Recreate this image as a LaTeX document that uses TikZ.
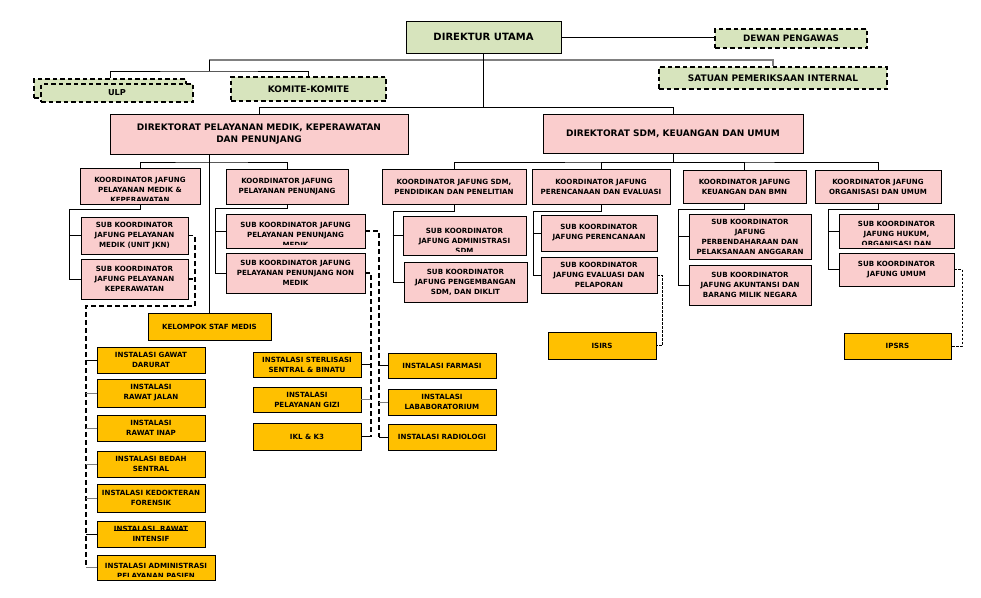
\documentclass[tikz,border=0pt]{standalone}
\usepackage{fontspec}
\setmainfont{DejaVu Sans}
\definecolor{greenfill}{RGB}{215,228,189}
\definecolor{pinkfill}{RGB}{250,205,205}
\definecolor{goldfill}{RGB}{255,192,0}
\newcommand{\strikeword}[1]{\setbox0\hbox{#1}\rlap{\raisebox{1.2pt}{\rule{\wd0}{0.6pt}}}\box0}

\begin{document}
\begin{tikzpicture}[x=1pt,y=-1pt,line width=0.7pt,
  base node/.style={draw,line width=0.9pt,inner sep=0pt,align=center,
    font=\fontsize{7.1}{10}\selectfont\bfseries},
  wh/.style 2 args={minimum width=#1pt,minimum height=#2pt},
  top node/.style={base node,fill=greenfill,font=\fontsize{9}{11}\selectfont\bfseries},
  dash node/.style={top node,dash pattern=on 4.5pt off 3pt,line width=1.2pt},
  dir node/.style={base node,fill=pinkfill,font=\fontsize{9}{12}\selectfont\bfseries},
  koor node/.style={base node,fill=pinkfill},
  unit node/.style={base node,fill=goldfill},
  % text that runs out of its box is cut 4pt above the bottom edge
  cut text/.style 2 args={path picture={
    \clip (path picture bounding box.north west) rectangle
      ([yshift=4pt]path picture bounding box.south east);
    \node[draw=none,fill=none,inner sep=0pt,
    minimum width=0pt,minimum height=0pt,anchor=north,align=center,
    font=\fontsize{7.1}{10}\selectfont\bfseries]
    at ([yshift=-#2pt]path picture bounding box.north) {#1};}},
  gray line/.style={draw=gray,line width=1.8pt},
  stub/.style={draw=gray},
  big dash/.style={dash pattern=on 5pt off 3pt,line width=1.1pt},
  fine dash/.style={dash pattern=on 2.5pt off 1.5pt,line width=0.6pt}]

  \fill[white] (0,0) rectangle (981,597);
  \useasboundingbox (0,0) rectangle (981,597);

  % top level
  \node[top node,wh={155}{32},font=\fontsize{10}{12}\selectfont\bfseries] (dirut) at (483.5,37) {DIREKTUR UTAMA};
  \node[dash node,wh={152}{19},font=\fontsize{8.8}{10}\selectfont\bfseries] (dewas) at (791,38.5) {DEWAN PENGAWAS};
  \node[dash node,wh={228}{22}] (spi) at (773,78) {SATUAN PEMERIKSAAN INTERNAL};
  \node[dash node,wh={152}{19}] (ulpback) at (110,88.5) {};
  \node[dash node,wh={152}{18},font=\fontsize{8.2}{10}\selectfont\bfseries] (ulp) at (117,93) {ULP};
  \node[dash node,wh={155}{24}] (komite) at (308.5,89) {KOMITE-KOMITE};

  % directorates
  \node[dir node,wh={298}{40}] (dirpm) at (259,134) {DIREKTORAT PELAYANAN MEDIK, KEPERAWATAN\\DAN PENUNJANG};
  \node[dir node,wh={260}{39}] (dirsdm) at (673,133.5) {DIREKTORAT SDM, KEUANGAN DAN UMUM};

  % koordinator
  \node[koor node,wh={120}{36},cut text={KOORDINATOR JAFUNG\\PELAYANAN MEDIK \&\\KEPERAWATAN}{9}] (kmedik) at (140,186) {};
  \node[koor node,wh={122}{35}] (kpen) at (287,186.5) {KOORDINATOR JAFUNG\\PELAYANAN PENUNJANG};
  \node[koor node,wh={144}{35}] (ksdm) at (454,186.5) {KOORDINATOR JAFUNG SDM,\\PENDIDIKAN DAN PENELITIAN};
  \node[koor node,wh={138}{35}] (kren) at (601,186.5) {KOORDINATOR JAFUNG\\PERENCANAAN DAN EVALUASI};
  \node[koor node,wh={123}{33}] (kuang) at (744.5,186.5) {KOORDINATOR JAFUNG\\KEUANGAN DAN BMN};
  \node[koor node,wh={126}{33}] (korg) at (878,186.5) {KOORDINATOR JAFUNG\\ORGANISASI DAN UMUM};

  % sub koordinator
  \node[koor node,wh={107}{37}] (smedik) at (134.5,235.5) {SUB KOORDINATOR\\JAFUNG PELAYANAN\\MEDIK (UNIT JKN)};
  \node[koor node,wh={107}{40}] (skep) at (134.5,279) {SUB KOORDINATOR\\JAFUNG PELAYANAN\\KEPERAWATAN};
  \node[koor node,wh={139}{34},cut text={SUB KOORDINATOR JAFUNG\\PELAYANAN PENUNJANG\\MEDIK}{8}] (spmedik) at (295.5,231) {};
  \node[koor node,wh={139}{40}] (spnon) at (295.5,273) {SUB KOORDINATOR JAFUNG\\PELAYANAN PENUNJANG NON\\MEDIK};
  \node[koor node,wh={123}{39},cut text={SUB KOORDINATOR\\JAFUNG ADMINISTRASI\\SDM}{11.5}] (sadm) at (464.5,235.5) {};
  \node[koor node,wh={123}{40}] (sdik) at (465.5,282) {SUB KOORDINATOR\\JAFUNG PENGEMBANGAN\\SDM, DAN DIKLIT};
  \node[koor node,wh={116}{36}] (sren) at (599,233) {SUB KOORDINATOR\\JAFUNG PERENCANAAN};
  \node[koor node,wh={116}{36}] (seval) at (599,275) {SUB KOORDINATOR\\JAFUNG EVALUASI DAN\\PELAPORAN};
  \node[koor node,wh={122}{45}] (sbend) at (750,236.5) {SUB KOORDINATOR\\JAFUNG\\PERBENDAHARAAN DAN\\PELAKSANAAN ANGGARAN};
  \node[koor node,wh={122}{40}] (sakun) at (750,285) {SUB KOORDINATOR\\JAFUNG AKUNTANSI DAN\\BARANG MILIK NEGARA};
  \node[koor node,wh={115}{34},cut text={SUB KOORDINATOR\\JAFUNG HUKUM,\\ORGANISASI DAN}{7}] (shukum) at (896.5,231) {};
  \node[koor node,wh={115}{33}] (sumum) at (896.5,269.5) {SUB KOORDINATOR\\JAFUNG UMUM};

  % kelompok, instalasi
  \node[unit node,wh={123}{27}] (ksm) at (209.5,326.5) {KELOMPOK STAF MEDIS};
  \node[unit node,wh={108}{26}] (igd) at (151,360) {INSTALASI GAWAT\\DARURAT};
  \node[unit node,wh={108}{28}] (irj) at (151,393) {INSTALASI\\RAWAT JALAN};
  \node[unit node,wh={108}{26}] (iri) at (151,428) {INSTALASI\\RAWAT INAP};
  \node[unit node,wh={108}{26}] (ibs) at (151,464) {INSTALASI BEDAH\\SENTRAL};
  \node[unit node,wh={108}{28}] (ikf) at (151,498) {INSTALASI KEDOKTERAN\\FORENSIK};
  \node[unit node,wh={108}{26}] (iicu) at (151,534) {\strikeword{INSTALASI\ \ RAWAT}\\INTENSIF};
  \node[unit node,wh={118}{25},cut text={INSTALASI ADMINISTRASI\\PELAYANAN PASIEN}{8}] (iadm) at (156,567.5) {};
  \node[unit node,wh={108}{25}] (ister) at (307,364.5) {INSTALASI STERLISASI\\SENTRAL \& BINATU};
  \node[unit node,wh={108}{25}] (igizi) at (307,399.5) {INSTALASI\\PELAYANAN GIZI};
  \node[unit node,wh={108}{27}] (ikl) at (307,436.5) {IKL \& K3};
  \node[unit node,wh={108}{25}] (ifar) at (442,365.5) {INSTALASI FARMASI};
  \node[unit node,wh={108}{26}] (ilab) at (442,402) {INSTALASI\\LABABORATORIUM};
  \node[unit node,wh={108}{26}] (irad) at (442,437) {INSTALASI RADIOLOGI};
  \node[unit node,wh={108}{27}] (isirs) at (602,345.5) {ISIRS};
  \node[unit node,wh={107}{26}] (ipsrs) at (897.5,346) {IPSRS};

  % top connectors
  \draw (dirut.east) -- (dirut.east -| dewas.west);
  \coordinate (cgray) at (209,60);
  \draw[gray line] (cgray) -| (spi.north);
  \draw (cgray) -- ++(0,11) coordinate (cside);
  \draw (ulpback.north) |- (cside) -| (komite.north);
  \draw (dirut.south) -- ++(0,54) coordinate (cdir);
  \draw (dirpm.north) |- (cdir) -| (dirsdm.north);

  % directorate -> koordinator
  \draw (dirpm.south -| ksm.north) -- (ksm.north);
  \coordinate (cpm) at (209.5,162);
  \draw (kmedik.north) |- (cpm) -| (kpen.north);
  \coordinate (csdm) at (673,162);
  \draw (dirsdm.south) -- (csdm);
  \draw (ksdm.north) |- (csdm) -| (korg.north);
  \draw (kren.north) |- (csdm);
  \draw (kuang.north) |- (csdm);

  % koordinator -> sub koordinator
  \draw (kmedik.south) -- ++(0,5) -| ([xshift=-11pt]skep.west) -- (skep.west);
  \draw ([xshift=-11pt]smedik.west) -- (smedik.west);
  \draw (kpen.south) -- ++(0,4) -| ([xshift=-10pt]spnon.west) -- (spnon.west);
  \draw ([xshift=-10pt]spmedik.west) -- (spmedik.west);
  \draw (ksdm.south) -- ++(0,7) -| ([xshift=-10pt]sdik.west) -- (sdik.west);
  \draw ([xshift=-10pt]sadm.west) -- (sadm.west);
  \draw (kren.south) -- ++(0,7) -| ([xshift=-7pt]seval.west) -- (seval.west);
  \draw ([xshift=-7pt]sren.west) -- (sren.west);
  \draw (kuang.south) -- ++(0,6) -| ([xshift=-10pt]sakun.west) -- (sakun.west);
  \draw ([xshift=-10pt]sbend.west) -- (sbend.west);
  \draw (korg.south) -- ++(0,6) -| ([xshift=-10pt]sumum.west) -- (sumum.west);
  \draw ([xshift=-10pt]shukum.west) -- (shukum.west);

  % dashed lines to instalasi
  \coordinate (d1) at (195,306);
  \coordinate (d2) at (86,306);
  \draw[big dash] (smedik.east) -| (d1) -- (d2) -- (d2 |- iadm.west);
  \draw[big dash] (skep.east) -- (skep.east -| d1);
  \draw (igd.west) -- (igd.west -| d2);
  \draw[stub] (irj.west) -- (irj.west -| d2);
  \draw[stub] (iri.west) -- (iri.west -| d2);
  \draw[stub] (ibs.west) -- (ibs.west -| d2);
  \draw[stub] (ikf.west) -- (ikf.west -| d2);
  \draw (iicu.west) -- (iicu.west -| d2);
  \draw[stub] (iadm.west) -- (iadm.west -| d2);

  \coordinate (d3) at (379,231);
  \draw[big dash] (spmedik.east) -- (d3) -- (d3 |- irad.west);
  \draw (ifar.west) -- (ifar.west -| d3);
  \draw[stub] (ilab.west) -- (ilab.west -| d3);
  \draw (irad.west) -- (irad.west -| d3);
  \coordinate (d4) at (371,273);
  \draw[big dash] (spnon.east) -- (d4) -- (d4 |- ikl.east);
  \draw (ister.east) -- (ister.east -| d4);
  \draw[stub] (igizi.east) -- (igizi.east -| d4);
  \draw (ikl.east) -- (ikl.east -| d4);

  \draw[fine dash] (seval.east) -- ++(5,0) |- (isirs.east);
  \draw[fine dash] (sumum.east) -- ++(8,0) |- (ipsrs.east);
\end{tikzpicture}
\end{document}
